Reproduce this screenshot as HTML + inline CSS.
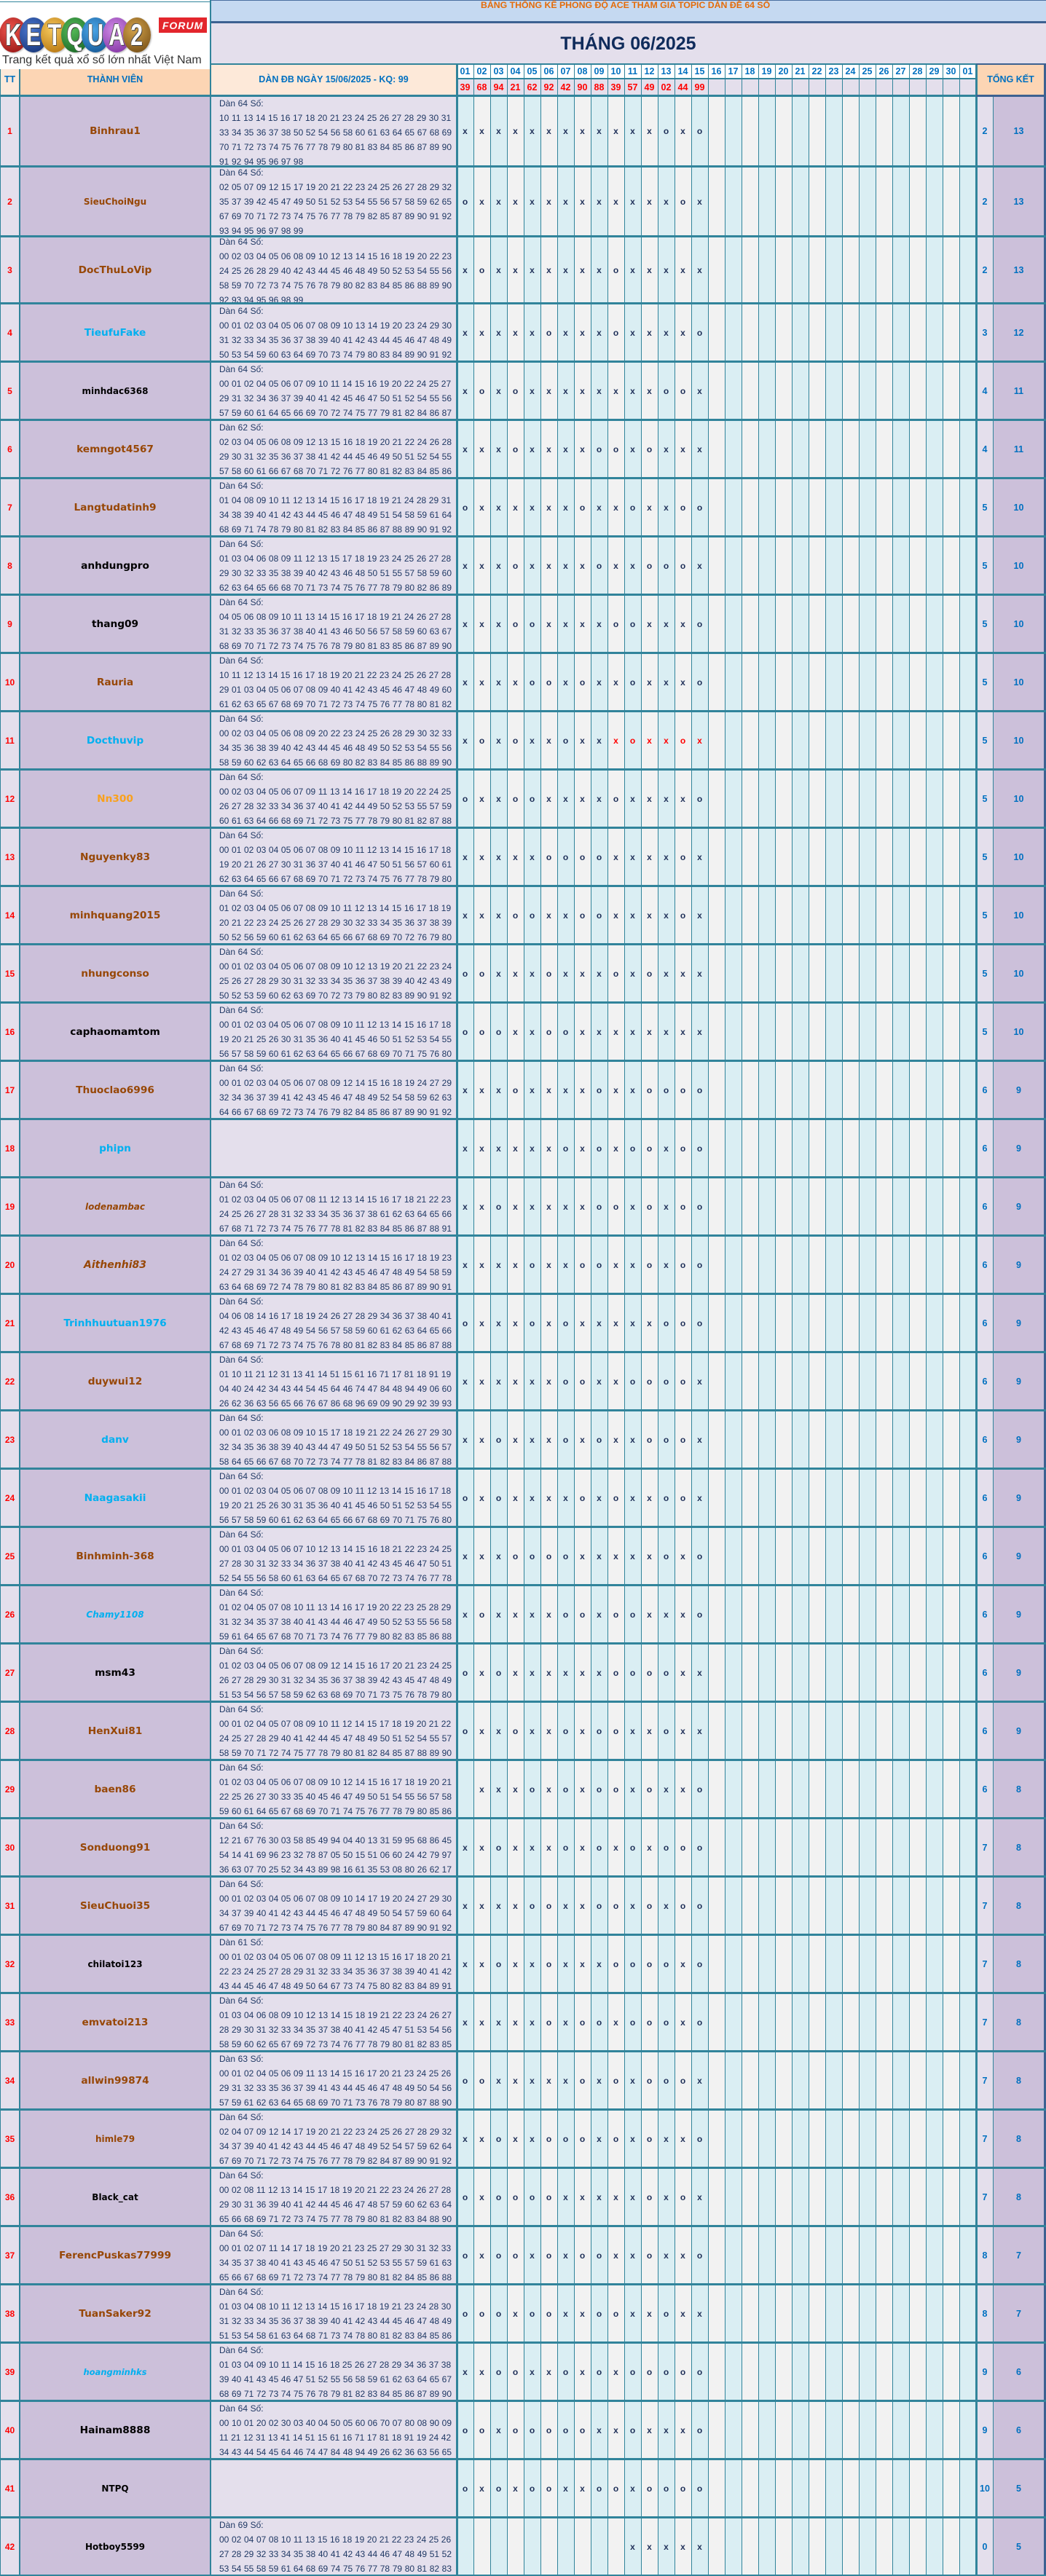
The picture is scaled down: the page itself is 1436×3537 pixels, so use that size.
<!DOCTYPE html>
<html><head><meta charset="utf-8">
<style>
*{margin:0;padding:0;box-sizing:border-box}
body{width:1436px;height:3537px;overflow:hidden;background:#fff}
#w{position:relative;width:1436px;height:3537px;overflow:hidden;font-family:"Liberation Sans",sans-serif;background:#fff}
.a{position:absolute}
.r{position:absolute;left:0;width:1436px}
.tt{position:absolute;left:0;width:27px;top:0;height:100%;display:flex;align-items:center;justify-content:center;color:#f00;font:bold 12px "Liberation Sans",sans-serif}
.nm{position:absolute;left:28px;width:260px;top:0;height:100%;display:flex;align-items:center;justify-content:center;font:bold 13.7px "DejaVu Sans",sans-serif;color:#974706;white-space:nowrap}
.nm.s{font-size:12px}.nm.it{font-style:italic}
.cb{color:#00b0f0!important}.ck{color:#000!important}.co{color:#f9a11b!important}
.dn{position:absolute;left:301px;width:325px;top:0;height:100%;overflow:hidden;font-size:12px;line-height:20px;color:#1f3864;white-space:nowrap;word-spacing:0.3px}
.dn div{margin-top:-1px}
.mk{position:absolute;left:627px;top:0;height:100%;display:flex;align-items:center;font:bold 12px "Liberation Sans",sans-serif;color:#1f3059}
.mk b{display:block;width:23px;text-align:center}
.mk b.rd{color:#f00}
.ta,.tb{position:absolute;top:0;height:100%;display:flex;align-items:center;justify-content:center;color:#0070c0;font:bold 12.5px "Liberation Sans",sans-serif}
.ta{left:1341px;width:22px}.tb{left:1364px;width:69px}
.hd{position:absolute;left:627px;display:flex;align-items:center}
.hd b{display:block;width:23px;text-align:center}
.hl{position:absolute;display:flex;align-items:center;justify-content:center;color:#0070c0;font:bold 12.5px "Liberation Sans",sans-serif;white-space:nowrap}
.c{position:absolute;border-radius:50%;width:38px;height:48px;top:24px;display:flex;align-items:center;justify-content:center;color:#fff;font:bold 42px "Liberation Sans",sans-serif;box-shadow:1px 1px 2px rgba(0,0,0,.3)}
.c span{display:block;transform:scaleX(.72);text-shadow:1px 1px 0 #333,-1px -1px 0 #555}
</style></head><body><div id="w">

<!-- logo -->
<div class="a" style="left:0;top:2px;width:289px;height:1px;background:#31849b"></div>
<div class="c" style="left:-1px;background:radial-gradient(circle at 40% 35%,#f0554c,#8e1010)"><span>K</span></div>
<div class="c" style="left:27px;background:radial-gradient(circle at 40% 35%,#4a78d0,#122e6e)"><span>E</span></div>
<div class="c" style="left:56px;background:radial-gradient(circle at 40% 35%,#f5c75a,#b06d08)"><span>T</span></div>
<div class="c" style="left:84px;background:radial-gradient(circle at 40% 35%,#55bb58,#135e21)"><span>Q</span></div>
<div class="c" style="left:112px;background:radial-gradient(circle at 40% 35%,#4aa6e8,#0f4f8c)"><span>U</span></div>
<div class="c" style="left:141px;background:radial-gradient(circle at 40% 35%,#cf8ae6,#7a2a9c)"><span>A</span></div>
<div class="c" style="left:169px;background:radial-gradient(circle at 40% 35%,#d3a24a,#6b4510)"><span>2</span></div>
<div class="a" style="left:218px;top:24px;width:66px;height:21px;background:#e3262c;color:#fff;font:italic bold 14px 'Liberation Sans',sans-serif;letter-spacing:1px;display:flex;align-items:center;justify-content:center">FORUM</div>
<div class="a" style="left:3px;top:74px;font-size:16px;line-height:18px;color:#333;white-space:nowrap">Trang kết quả xổ số lớn nhất Việt Nam</div>

<!-- header bands -->
<div class="a" style="left:289px;top:0;width:1147px;height:30px;background:#c5d9f1;border-top:1px solid #4a6fa0"></div>
<div class="a" style="left:660px;top:0;height:30px;line-height:30px;font:bold 12.3px 'Liberation Sans',sans-serif;color:#e46c0a;white-space:nowrap">BẢNG THỐNG KÊ PHONG ĐỘ ACE THAM GIA TOPIC DÀN ĐỀ 64 SỐ</div>
<div class="a" style="left:289px;top:29px;width:1147px;height:3px;background:#3c6191"></div>
<div class="a" style="left:289px;top:32px;width:1147px;height:56px;background:#e4dfec;display:flex;align-items:center;justify-content:center;font:bold 25px 'Liberation Sans',sans-serif;color:#0f2b5b">THÁNG 06/2025</div>

<!-- header cells -->
<div class="a" style="left:0;top:95px;width:27px;height:35px;background:#fde9d9"></div>
<div class="a" style="left:27px;top:95px;width:262px;height:35px;background:#fcd5b4"></div>
<div class="a" style="left:289px;top:88px;width:338px;height:42px;background:#fde9d9"></div>
<div class="a" style="left:627px;top:88px;width:713px;height:20px;background:#fff"></div>
<div class="a" style="left:627px;top:108px;width:713px;height:22px;background:#e4dfec"></div>
<div class="a" style="left:1340px;top:88px;width:96px;height:42px;background:#fcd5b4"></div>

<!-- body column backgrounds -->
<div class="a" style="left:0;top:133px;width:27px;height:3404px;background:#e4dfec"></div>
<div class="a" style="left:27px;top:133px;width:262px;height:3404px;background:#ccc0da"></div>
<div class="a" style="left:289px;top:133px;width:338px;height:3404px;background:#e4dfec"></div>
<div class="a" style="left:627px;top:133px;width:713px;height:3404px;background:repeating-linear-gradient(90deg,#daeef3 0,#daeef3 23px,#f2f2f2 23px,#f2f2f2 46px)"></div>
<div class="a" style="left:1340px;top:133px;width:23px;height:3404px;background:#e4dfec"></div>
<div class="a" style="left:1363px;top:133px;width:73px;height:3404px;background:#ccc0da"></div>

<!-- vertical lines -->
<div class="a" style="left:0;top:95px;width:1px;height:3442px;background:#31849b"></div>
<div class="a" style="left:26px;top:95px;width:2px;height:3442px;background:#31849b"></div>
<div class="a" style="left:288px;top:0;width:2px;height:3537px;background:#31849b"></div>
<div class="a" style="left:627px;top:88px;width:713px;height:3449px;background:repeating-linear-gradient(90deg,#31849b 0,#31849b 1px,transparent 1px,transparent 23px)"></div>
<div class="a" style="left:626px;top:88px;width:3px;height:3449px;background:#31849b"></div>
<div class="a" style="left:1339px;top:88px;width:3px;height:3449px;background:#31849b"></div>
<div class="a" style="left:1363px;top:130px;width:1px;height:3407px;background:#31849b"></div>
<div class="a" style="left:1433px;top:88px;width:3px;height:3449px;background:#3c6191"></div>

<!-- horizontal lines -->
<div class="a" style="left:289px;top:87px;width:1147px;height:2px;background:#31849b"></div>
<div class="a" style="left:1340px;top:87px;width:96px;height:2px;background:#3c6191"></div>
<div class="a" style="left:627px;top:107px;width:713px;height:2px;background:#31849b"></div>
<div class="a" style="left:0;top:130px;width:1436px;height:3px;background:#31849b"></div>
<div class="a" style="left:1340px;top:130px;width:96px;height:3px;background:#3c6191"></div>
<div class="a" style="left:0;top:227px;width:1436px;height:3px;background:#31849b"></div>
<div class="a" style="left:0;top:323px;width:1436px;height:3px;background:#31849b"></div>
<div class="a" style="left:0;top:415px;width:1436px;height:3122px;background:repeating-linear-gradient(180deg,#31849b 0,#31849b 3px,transparent 3px,transparent 80px)"></div>

<!-- header labels -->
<div class="hl" style="left:0;top:88px;width:27px;height:42px">TT</div>
<div class="hl" style="left:28px;top:88px;width:260px;height:42px">THÀNH VIÊN</div>
<div class="hl" style="left:290px;top:88px;width:336px;height:42px">DÀN ĐB NGÀY 15/06/2025 - KQ: 99</div>
<div class="hl" style="left:1342px;top:88px;width:91px;height:42px">TỔNG KẾT</div>
<div class="hd" style="top:88px;height:20px;color:#0070c0;font:12.5px 'Liberation Sans',sans-serif"><b>01</b><b>02</b><b>03</b><b>04</b><b>05</b><b>06</b><b>07</b><b>08</b><b>09</b><b>10</b><b>11</b><b>12</b><b>13</b><b>14</b><b>15</b><b>16</b><b>17</b><b>18</b><b>19</b><b>20</b><b>21</b><b>22</b><b>23</b><b>24</b><b>25</b><b>26</b><b>27</b><b>28</b><b>29</b><b>30</b><b>01</b></div>
<div class="hd" style="top:109px;height:21px;color:#f00;font:bold 12.5px 'Liberation Sans',sans-serif"><b>39</b><b>68</b><b>94</b><b>21</b><b>62</b><b>92</b><b>42</b><b>90</b><b>88</b><b>39</b><b>57</b><b>49</b><b>02</b><b>44</b><b>99</b></div>

<!-- rows -->
<div class="r" style="top:133px;height:94px"><b class="tt">1</b><i class="nm">Binhrau1</i><div class="dn"><div>Dàn 64 Số:<br>10 11 13 14 15 16 17 18 20 21 23 24 25 26 27 28 29 30 31<br>33 34 35 36 37 38 50 52 54 56 58 60 61 63 64 65 67 68 69<br>70 71 72 73 74 75 76 77 78 79 80 81 83 84 85 86 87 89 90<br>91 92 94 95 96 97 98</div></div><div class="mk"><b>x</b><b>x</b><b>x</b><b>x</b><b>x</b><b>x</b><b>x</b><b>x</b><b>x</b><b>x</b><b>x</b><b>x</b><b>o</b><b>x</b><b>o</b></div><b class="ta">2</b><b class="tb">13</b></div>

<div class="r" style="top:230px;height:93px"><b class="tt">2</b><i class="nm s">SieuChoiNgu</i><div class="dn"><div style="margin-top:-3px">Dàn 64 Số:<br>02 05 07 09 12 15 17 19 20 21 22 23 24 25 26 27 28 29 32<br>35 37 39 42 45 47 49 50 51 52 53 54 55 56 57 58 59 62 65<br>67 69 70 71 72 73 74 75 76 77 78 79 82 85 87 89 90 91 92<br>93 94 95 96 97 98 99</div></div><div class="mk"><b>o</b><b>x</b><b>x</b><b>x</b><b>x</b><b>x</b><b>x</b><b>x</b><b>x</b><b>x</b><b>x</b><b>x</b><b>x</b><b>o</b><b>x</b></div><b class="ta">2</b><b class="tb">13</b></div>

<div class="r" style="top:326px;height:89px"><b class="tt">3</b><i class="nm">DocThuLoVip</i><div class="dn"><div style="margin-top:-4px">Dàn 64 Số:<br>00 02 03 04 05 06 08 09 10 12 13 14 15 16 18 19 20 22 23<br>24 25 26 28 29 40 42 43 44 45 46 48 49 50 52 53 54 55 56<br>58 59 70 72 73 74 75 76 78 79 80 82 83 84 85 86 88 89 90<br>92 93 94 95 96 98 99</div></div><div class="mk"><b>x</b><b>o</b><b>x</b><b>x</b><b>x</b><b>x</b><b>x</b><b>x</b><b>x</b><b>o</b><b>x</b><b>x</b><b>x</b><b>x</b><b>x</b></div><b class="ta">2</b><b class="tb">13</b></div>

<div class="r" style="top:418px;height:77px"><b class="tt">4</b><i class="nm cb">TieufuFake</i><div class="dn"><div>Dàn 64 Số:<br>00 01 02 03 04 05 06 07 08 09 10 13 14 19 20 23 24 29 30<br>31 32 33 34 35 36 37 38 39 40 41 42 43 44 45 46 47 48 49<br>50 53 54 59 60 63 64 69 70 73 74 79 80 83 84 89 90 91 92</div></div><div class="mk"><b>x</b><b>x</b><b>x</b><b>x</b><b>x</b><b>o</b><b>x</b><b>x</b><b>x</b><b>o</b><b>x</b><b>x</b><b>x</b><b>x</b><b>o</b></div><b class="ta">3</b><b class="tb">12</b></div>

<div class="r" style="top:498px;height:77px"><b class="tt">5</b><i class="nm s ck">minhdac6368</i><div class="dn"><div>Dàn 64 Số:<br>00 01 02 04 05 06 07 09 10 11 14 15 16 19 20 22 24 25 27<br>29 31 32 34 36 37 39 40 41 42 45 46 47 50 51 52 54 55 56<br>57 59 60 61 64 65 66 69 70 72 74 75 77 79 81 82 84 86 87</div></div><div class="mk"><b>x</b><b>o</b><b>x</b><b>o</b><b>x</b><b>x</b><b>x</b><b>x</b><b>x</b><b>x</b><b>x</b><b>x</b><b>o</b><b>o</b><b>x</b></div><b class="ta">4</b><b class="tb">11</b></div>

<div class="r" style="top:578px;height:77px"><b class="tt">6</b><i class="nm">kemngot4567</i><div class="dn"><div>Dàn 62 Số:<br>02 03 04 05 06 08 09 12 13 15 16 18 19 20 21 22 24 26 28<br>29 30 31 32 35 36 37 38 41 42 44 45 46 49 50 51 52 54 55<br>57 58 60 61 66 67 68 70 71 72 76 77 80 81 82 83 84 85 86</div></div><div class="mk"><b>x</b><b>x</b><b>x</b><b>o</b><b>x</b><b>x</b><b>x</b><b>x</b><b>o</b><b>o</b><b>x</b><b>o</b><b>x</b><b>x</b><b>x</b></div><b class="ta">4</b><b class="tb">11</b></div>

<div class="r" style="top:658px;height:77px"><b class="tt">7</b><i class="nm">Langtudatinh9</i><div class="dn"><div>Dàn 64 Số:<br>01 04 08 09 10 11 12 13 14 15 16 17 18 19 21 24 28 29 31<br>34 38 39 40 41 42 43 44 45 46 47 48 49 51 54 58 59 61 64<br>68 69 71 74 78 79 80 81 82 83 84 85 86 87 88 89 90 91 92</div></div><div class="mk"><b>o</b><b>x</b><b>x</b><b>x</b><b>x</b><b>x</b><b>x</b><b>o</b><b>x</b><b>x</b><b>o</b><b>x</b><b>x</b><b>o</b><b>o</b></div><b class="ta">5</b><b class="tb">10</b></div>

<div class="r" style="top:738px;height:77px"><b class="tt">8</b><i class="nm ck">anhdungpro</i><div class="dn"><div>Dàn 64 Số:<br>01 03 04 06 08 09 11 12 13 15 17 18 19 23 24 25 26 27 28<br>29 30 32 33 35 38 39 40 42 43 46 48 50 51 55 57 58 59 60<br>62 63 64 65 66 68 70 71 73 74 75 76 77 78 79 80 82 86 89</div></div><div class="mk"><b>x</b><b>x</b><b>x</b><b>o</b><b>x</b><b>x</b><b>x</b><b>x</b><b>o</b><b>x</b><b>x</b><b>o</b><b>o</b><b>o</b><b>x</b></div><b class="ta">5</b><b class="tb">10</b></div>

<div class="r" style="top:818px;height:77px"><b class="tt">9</b><i class="nm ck">thang09</i><div class="dn"><div>Dàn 64 Số:<br>04 05 06 08 09 10 11 13 14 15 16 17 18 19 21 24 26 27 28<br>31 32 33 35 36 37 38 40 41 43 46 50 56 57 58 59 60 63 67<br>68 69 70 71 72 73 74 75 76 78 79 80 81 83 85 86 87 89 90</div></div><div class="mk"><b>x</b><b>x</b><b>x</b><b>o</b><b>o</b><b>x</b><b>x</b><b>x</b><b>x</b><b>o</b><b>o</b><b>x</b><b>x</b><b>x</b><b>o</b></div><b class="ta">5</b><b class="tb">10</b></div>

<div class="r" style="top:898px;height:77px"><b class="tt">10</b><i class="nm">Rauria</i><div class="dn"><div>Dàn 64 Số:<br>10 11 12 13 14 15 16 17 18 19 20 21 22 23 24 25 26 27 28<br>29 01 03 04 05 06 07 08 09 40 41 42 43 45 46 47 48 49 60<br>61 62 63 65 67 68 69 70 71 72 73 74 75 76 77 78 80 81 82</div></div><div class="mk"><b>x</b><b>x</b><b>x</b><b>x</b><b>o</b><b>o</b><b>x</b><b>o</b><b>x</b><b>x</b><b>o</b><b>x</b><b>x</b><b>x</b><b>o</b></div><b class="ta">5</b><b class="tb">10</b></div>

<div class="r" style="top:978px;height:77px"><b class="tt">11</b><i class="nm cb">Docthuvip</i><div class="dn"><div>Dàn 64 Số:<br>00 02 03 04 05 06 08 09 20 22 23 24 25 26 28 29 30 32 33<br>34 35 36 38 39 40 42 43 44 45 46 48 49 50 52 53 54 55 56<br>58 59 60 62 63 64 65 66 68 69 80 82 83 84 85 86 88 89 90</div></div><div class="mk"><b>x</b><b>o</b><b>x</b><b>o</b><b>x</b><b>x</b><b>o</b><b>x</b><b>x</b><b class="rd">x</b><b class="rd">o</b><b class="rd">x</b><b class="rd">x</b><b class="rd">o</b><b class="rd">x</b></div><b class="ta">5</b><b class="tb">10</b></div>

<div class="r" style="top:1058px;height:77px"><b class="tt">12</b><i class="nm co">Nn300</i><div class="dn"><div>Dàn 64 Số:<br>00 02 03 04 05 06 07 09 11 13 14 16 17 18 19 20 22 24 25<br>26 27 28 32 33 34 36 37 40 41 42 44 49 50 52 53 55 57 59<br>60 61 63 64 66 68 69 71 72 73 75 77 78 79 80 81 82 87 88</div></div><div class="mk"><b>o</b><b>x</b><b>x</b><b>o</b><b>o</b><b>x</b><b>x</b><b>x</b><b>x</b><b>o</b><b>x</b><b>x</b><b>x</b><b>x</b><b>o</b></div><b class="ta">5</b><b class="tb">10</b></div>

<div class="r" style="top:1138px;height:77px"><b class="tt">13</b><i class="nm">Nguyenky83</i><div class="dn"><div>Dàn 64 Số:<br>00 01 02 03 04 05 06 07 08 09 10 11 12 13 14 15 16 17 18<br>19 20 21 26 27 30 31 36 37 40 41 46 47 50 51 56 57 60 61<br>62 63 64 65 66 67 68 69 70 71 72 73 74 75 76 77 78 79 80</div></div><div class="mk"><b>x</b><b>x</b><b>x</b><b>x</b><b>x</b><b>o</b><b>o</b><b>o</b><b>o</b><b>x</b><b>x</b><b>x</b><b>x</b><b>o</b><b>x</b></div><b class="ta">5</b><b class="tb">10</b></div>

<div class="r" style="top:1218px;height:77px"><b class="tt">14</b><i class="nm">minhquang2015</i><div class="dn"><div>Dàn 64 Số:<br>01 02 03 04 05 06 07 08 09 10 11 12 13 14 15 16 17 18 19<br>20 21 22 23 24 25 26 27 28 29 30 32 33 34 35 36 37 38 39<br>50 52 56 59 60 61 62 63 64 65 66 67 68 69 70 72 76 79 80</div></div><div class="mk"><b>x</b><b>x</b><b>x</b><b>o</b><b>o</b><b>x</b><b>x</b><b>o</b><b>o</b><b>x</b><b>x</b><b>x</b><b>x</b><b>o</b><b>x</b></div><b class="ta">5</b><b class="tb">10</b></div>

<div class="r" style="top:1298px;height:77px"><b class="tt">15</b><i class="nm">nhungconso</i><div class="dn"><div>Dàn 64 Số:<br>00 01 02 03 04 05 06 07 08 09 10 12 13 19 20 21 22 23 24<br>25 26 27 28 29 30 31 32 33 34 35 36 37 38 39 40 42 43 49<br>50 52 53 59 60 62 63 69 70 72 73 79 80 82 83 89 90 91 92</div></div><div class="mk"><b>o</b><b>o</b><b>x</b><b>x</b><b>x</b><b>o</b><b>x</b><b>x</b><b>x</b><b>o</b><b>x</b><b>o</b><b>x</b><b>x</b><b>x</b></div><b class="ta">5</b><b class="tb">10</b></div>

<div class="r" style="top:1378px;height:77px"><b class="tt">16</b><i class="nm ck">caphaomamtom</i><div class="dn"><div>Dàn 64 Số:<br>00 01 02 03 04 05 06 07 08 09 10 11 12 13 14 15 16 17 18<br>19 20 21 25 26 30 31 35 36 40 41 45 46 50 51 52 53 54 55<br>56 57 58 59 60 61 62 63 64 65 66 67 68 69 70 71 75 76 80</div></div><div class="mk"><b>o</b><b>o</b><b>o</b><b>x</b><b>x</b><b>o</b><b>o</b><b>x</b><b>x</b><b>x</b><b>x</b><b>x</b><b>x</b><b>x</b><b>x</b></div><b class="ta">5</b><b class="tb">10</b></div>

<div class="r" style="top:1458px;height:77px"><b class="tt">17</b><i class="nm">Thuoclao6996</i><div class="dn"><div>Dàn 64 Số:<br>00 01 02 03 04 05 06 07 08 09 12 14 15 16 18 19 24 27 29<br>32 34 36 37 39 41 42 43 45 46 47 48 49 52 54 58 59 62 63<br>64 66 67 68 69 72 73 74 76 79 82 84 85 86 87 89 90 91 92</div></div><div class="mk"><b>x</b><b>x</b><b>x</b><b>o</b><b>x</b><b>x</b><b>x</b><b>x</b><b>o</b><b>x</b><b>x</b><b>o</b><b>o</b><b>o</b><b>o</b></div><b class="ta">6</b><b class="tb">9</b></div>

<div class="r" style="top:1538px;height:77px"><b class="tt">18</b><i class="nm cb">phipn</i><div class="mk"><b>x</b><b>x</b><b>x</b><b>x</b><b>x</b><b>x</b><b>o</b><b>x</b><b>o</b><b>x</b><b>o</b><b>o</b><b>x</b><b>o</b><b>o</b></div><b class="ta">6</b><b class="tb">9</b></div>

<div class="r" style="top:1618px;height:77px"><b class="tt">19</b><i class="nm s it">lodenambac</i><div class="dn"><div>Dàn 64 Số:<br>01 02 03 04 05 06 07 08 11 12 13 14 15 16 17 18 21 22 23<br>24 25 26 27 28 31 32 33 34 35 36 37 38 61 62 63 64 65 66<br>67 68 71 72 73 74 75 76 77 78 81 82 83 84 85 86 87 88 91</div></div><div class="mk"><b>x</b><b>x</b><b>o</b><b>x</b><b>x</b><b>x</b><b>x</b><b>x</b><b>o</b><b>o</b><b>x</b><b>o</b><b>x</b><b>o</b><b>o</b></div><b class="ta">6</b><b class="tb">9</b></div>

<div class="r" style="top:1698px;height:77px"><b class="tt">20</b><i class="nm it" style="font-size:14px">Aithenhi83</i><div class="dn"><div>Dàn 64 Số:<br>01 02 03 04 05 06 07 08 09 10 12 13 14 15 16 17 18 19 23<br>24 27 29 31 34 36 39 40 41 42 43 45 46 47 48 49 54 58 59<br>63 64 68 69 72 74 78 79 80 81 82 83 84 85 86 87 89 90 91</div></div><div class="mk"><b>x</b><b>x</b><b>x</b><b>x</b><b>o</b><b>x</b><b>x</b><b>o</b><b>o</b><b>x</b><b>x</b><b>o</b><b>x</b><b>o</b><b>o</b></div><b class="ta">6</b><b class="tb">9</b></div>

<div class="r" style="top:1778px;height:77px"><b class="tt">21</b><i class="nm cb">Trinhhuutuan1976</i><div class="dn"><div>Dàn 64 Số:<br>04 06 08 14 16 17 18 19 24 26 27 28 29 34 36 37 38 40 41<br>42 43 45 46 47 48 49 54 56 57 58 59 60 61 62 63 64 65 66<br>67 68 69 71 72 73 74 75 76 78 80 81 82 83 84 85 86 87 88</div></div><div class="mk"><b>o</b><b>x</b><b>x</b><b>x</b><b>o</b><b>x</b><b>o</b><b>x</b><b>x</b><b>x</b><b>x</b><b>x</b><b>o</b><b>o</b><b>o</b></div><b class="ta">6</b><b class="tb">9</b></div>

<div class="r" style="top:1858px;height:77px"><b class="tt">22</b><i class="nm">duywui12</i><div class="dn"><div>Dàn 64 Số:<br>01 10 11 21 12 31 13 41 14 51 15 61 16 71 17 81 18 91 19<br>04 40 24 42 34 43 44 54 45 64 46 74 47 84 48 94 49 06 60<br>26 62 36 63 56 65 66 76 67 86 68 96 69 09 90 29 92 39 93</div></div><div class="mk"><b>x</b><b>x</b><b>x</b><b>x</b><b>x</b><b>x</b><b>o</b><b>o</b><b>x</b><b>x</b><b>o</b><b>o</b><b>o</b><b>o</b><b>x</b></div><b class="ta">6</b><b class="tb">9</b></div>

<div class="r" style="top:1938px;height:77px"><b class="tt">23</b><i class="nm cb">danv</i><div class="dn"><div>Dàn 64 Số:<br>00 01 02 03 06 08 09 10 15 17 18 19 21 22 24 26 27 29 30<br>32 34 35 36 38 39 40 43 44 47 49 50 51 52 53 54 55 56 57<br>58 64 65 66 67 68 70 72 73 74 77 78 81 82 83 84 86 87 88</div></div><div class="mk"><b>x</b><b>x</b><b>o</b><b>x</b><b>x</b><b>x</b><b>o</b><b>x</b><b>o</b><b>x</b><b>x</b><b>o</b><b>o</b><b>o</b><b>x</b></div><b class="ta">6</b><b class="tb">9</b></div>

<div class="r" style="top:2018px;height:77px"><b class="tt">24</b><i class="nm cb">Naagasakii</i><div class="dn"><div>Dàn 64 Số:<br>00 01 02 03 04 05 06 07 08 09 10 11 12 13 14 15 16 17 18<br>19 20 21 25 26 30 31 35 36 40 41 45 46 50 51 52 53 54 55<br>56 57 58 59 60 61 62 63 64 65 66 67 68 69 70 71 75 76 80</div></div><div class="mk"><b>o</b><b>x</b><b>o</b><b>x</b><b>x</b><b>x</b><b>x</b><b>o</b><b>x</b><b>o</b><b>x</b><b>x</b><b>o</b><b>o</b><b>x</b></div><b class="ta">6</b><b class="tb">9</b></div>

<div class="r" style="top:2098px;height:77px"><b class="tt">25</b><i class="nm">Binhminh-368</i><div class="dn"><div>Dàn 64 Số:<br>00 01 03 04 05 06 07 10 12 13 14 15 16 18 21 22 23 24 25<br>27 28 30 31 32 33 34 36 37 38 40 41 42 43 45 46 47 50 51<br>52 54 55 56 58 60 61 63 64 65 67 68 70 72 73 74 76 77 78</div></div><div class="mk"><b>x</b><b>x</b><b>x</b><b>o</b><b>o</b><b>o</b><b>o</b><b>x</b><b>x</b><b>x</b><b>x</b><b>x</b><b>o</b><b>x</b><b>o</b></div><b class="ta">6</b><b class="tb">9</b></div>

<div class="r" style="top:2178px;height:77px"><b class="tt">26</b><i class="nm s it cb">Chamy1108</i><div class="dn"><div>Dàn 64 Số:<br>01 02 04 05 07 08 10 11 13 14 16 17 19 20 22 23 25 28 29<br>31 32 34 35 37 38 40 41 43 44 46 47 49 50 52 53 55 56 58<br>59 61 64 65 67 68 70 71 73 74 76 77 79 80 82 83 85 86 88</div></div><div class="mk"><b>x</b><b>o</b><b>x</b><b>x</b><b>x</b><b>x</b><b>o</b><b>o</b><b>x</b><b>o</b><b>o</b><b>x</b><b>x</b><b>x</b><b>o</b></div><b class="ta">6</b><b class="tb">9</b></div>

<div class="r" style="top:2258px;height:77px"><b class="tt">27</b><i class="nm ck">msm43</i><div class="dn"><div>Dàn 64 Số:<br>01 02 03 04 05 06 07 08 09 12 14 15 16 17 20 21 23 24 25<br>26 27 28 29 30 31 32 34 35 36 37 38 39 42 43 45 47 48 49<br>51 53 54 56 57 58 59 62 63 68 69 70 71 73 75 76 78 79 80</div></div><div class="mk"><b>o</b><b>x</b><b>o</b><b>x</b><b>x</b><b>x</b><b>x</b><b>x</b><b>x</b><b>o</b><b>o</b><b>o</b><b>o</b><b>x</b><b>x</b></div><b class="ta">6</b><b class="tb">9</b></div>

<div class="r" style="top:2338px;height:77px"><b class="tt">28</b><i class="nm">HenXui81</i><div class="dn"><div>Dàn 64 Số:<br>00 01 02 04 05 07 08 09 10 11 12 14 15 17 18 19 20 21 22<br>24 25 27 28 29 40 41 42 44 45 47 48 49 50 51 52 54 55 57<br>58 59 70 71 72 74 75 77 78 79 80 81 82 84 85 87 88 89 90</div></div><div class="mk"><b>o</b><b>x</b><b>x</b><b>o</b><b>x</b><b>x</b><b>o</b><b>x</b><b>o</b><b>o</b><b>x</b><b>x</b><b>o</b><b>x</b><b>x</b></div><b class="ta">6</b><b class="tb">9</b></div>

<div class="r" style="top:2418px;height:77px"><b class="tt">29</b><i class="nm">baen86</i><div class="dn"><div>Dàn 64 Số:<br>01 02 03 04 05 06 07 08 09 10 12 14 15 16 17 18 19 20 21<br>22 25 26 27 30 33 35 40 45 46 47 49 50 51 54 55 56 57 58<br>59 60 61 64 65 67 68 69 70 71 74 75 76 77 78 79 80 85 86</div></div><div class="mk"><b></b><b>x</b><b>x</b><b>x</b><b>o</b><b>x</b><b>o</b><b>x</b><b>o</b><b>o</b><b>x</b><b>o</b><b>x</b><b>x</b><b>o</b></div><b class="ta">6</b><b class="tb">8</b></div>

<div class="r" style="top:2498px;height:77px"><b class="tt">30</b><i class="nm">Sonduong91</i><div class="dn"><div>Dàn 64 Số:<br>12 21 67 76 30 03 58 85 49 94 04 40 13 31 59 95 68 86 45<br>54 14 41 69 96 23 32 78 87 05 50 15 51 06 60 24 42 79 97<br>36 63 07 70 25 52 34 43 89 98 16 61 35 53 08 80 26 62 17</div></div><div class="mk"><b>x</b><b>x</b><b>o</b><b>x</b><b>x</b><b>x</b><b>o</b><b>x</b><b>o</b><b>x</b><b>o</b><b>x</b><b>o</b><b>o</b><b>o</b></div><b class="ta">7</b><b class="tb">8</b></div>

<div class="r" style="top:2578px;height:77px"><b class="tt">31</b><i class="nm">SieuChuoi35</i><div class="dn"><div>Dàn 64 Số:<br>00 01 02 03 04 05 06 07 08 09 10 14 17 19 20 24 27 29 30<br>34 37 39 40 41 42 43 44 45 46 47 48 49 50 54 57 59 60 64<br>67 69 70 71 72 73 74 75 76 77 78 79 80 84 87 89 90 91 92</div></div><div class="mk"><b>x</b><b>x</b><b>x</b><b>x</b><b>o</b><b>o</b><b>x</b><b>x</b><b>o</b><b>o</b><b>x</b><b>o</b><b>x</b><b>o</b><b>o</b></div><b class="ta">7</b><b class="tb">8</b></div>

<div class="r" style="top:2658px;height:77px"><b class="tt">32</b><i class="nm s ck">chilatoi123</i><div class="dn"><div>Dàn 61 Số:<br>00 01 02 03 04 05 06 07 08 09 11 12 13 15 16 17 18 20 21<br>22 23 24 25 27 28 29 31 32 33 34 35 36 37 38 39 40 41 42<br>43 44 45 46 47 48 49 50 64 67 73 74 75 80 82 83 84 89 91</div></div><div class="mk"><b>x</b><b>x</b><b>o</b><b>x</b><b>x</b><b>o</b><b>x</b><b>x</b><b>x</b><b>o</b><b>o</b><b>o</b><b>o</b><b>x</b><b>o</b></div><b class="ta">7</b><b class="tb">8</b></div>

<div class="r" style="top:2738px;height:77px"><b class="tt">33</b><i class="nm">emvatoi213</i><div class="dn"><div>Dàn 64 Số:<br>01 03 04 06 08 09 10 12 13 14 15 18 19 21 22 23 24 26 27<br>28 29 30 31 32 33 34 35 37 38 40 41 42 45 47 51 53 54 56<br>58 59 60 62 65 67 69 72 73 74 76 77 78 79 80 81 82 83 85</div></div><div class="mk"><b>x</b><b>x</b><b>x</b><b>x</b><b>x</b><b>o</b><b>x</b><b>o</b><b>o</b><b>x</b><b>o</b><b>o</b><b>o</b><b>x</b><b>o</b></div><b class="ta">7</b><b class="tb">8</b></div>

<div class="r" style="top:2818px;height:77px"><b class="tt">34</b><i class="nm">allwin99874</i><div class="dn"><div>Dàn 63 Số:<br>00 01 02 04 05 06 09 11 13 14 15 16 17 20 21 23 24 25 26<br>29 31 32 33 35 36 37 39 41 43 44 45 46 47 48 49 50 54 56<br>57 59 61 62 63 64 65 68 69 70 71 73 76 78 79 80 87 88 90</div></div><div class="mk"><b>o</b><b>o</b><b>x</b><b>x</b><b>x</b><b>x</b><b>x</b><b>o</b><b>x</b><b>o</b><b>x</b><b>o</b><b>o</b><b>o</b><b>x</b></div><b class="ta">7</b><b class="tb">8</b></div>

<div class="r" style="top:2898px;height:77px"><b class="tt">35</b><i class="nm s">himle79</i><div class="dn"><div>Dàn 64 Số:<br>02 04 07 09 12 14 17 19 20 21 22 23 24 25 26 27 28 29 32<br>34 37 39 40 41 42 43 44 45 46 47 48 49 52 54 57 59 62 64<br>67 69 70 71 72 73 74 75 76 77 78 79 82 84 87 89 90 91 92</div></div><div class="mk"><b>x</b><b>x</b><b>o</b><b>x</b><b>x</b><b>o</b><b>o</b><b>o</b><b>x</b><b>o</b><b>x</b><b>o</b><b>x</b><b>x</b><b>o</b></div><b class="ta">7</b><b class="tb">8</b></div>

<div class="r" style="top:2978px;height:77px"><b class="tt">36</b><i class="nm s ck">Black_cat</i><div class="dn"><div>Dàn 64 Số:<br>00 02 08 11 12 13 14 15 17 18 19 20 21 22 23 24 26 27 28<br>29 30 31 36 39 40 41 42 44 45 46 47 48 57 59 60 62 63 64<br>65 66 68 69 71 72 73 74 75 77 78 79 80 81 82 83 84 88 90</div></div><div class="mk"><b>o</b><b>x</b><b>o</b><b>o</b><b>o</b><b>o</b><b>x</b><b>x</b><b>x</b><b>x</b><b>x</b><b>o</b><b>x</b><b>o</b><b>x</b></div><b class="ta">7</b><b class="tb">8</b></div>

<div class="r" style="top:3058px;height:77px"><b class="tt">37</b><i class="nm">FerencPuskas77999</i><div class="dn"><div>Dàn 64 Số:<br>00 01 02 07 11 14 17 18 19 20 21 23 25 27 29 30 31 32 33<br>34 35 37 38 40 41 43 45 46 47 50 51 52 53 55 57 59 61 63<br>65 66 67 68 69 71 72 73 74 77 78 79 80 81 82 84 85 86 88</div></div><div class="mk"><b>o</b><b>x</b><b>o</b><b>o</b><b>x</b><b>o</b><b>x</b><b>o</b><b>o</b><b>x</b><b>x</b><b>o</b><b>x</b><b>x</b><b>o</b></div><b class="ta">8</b><b class="tb">7</b></div>

<div class="r" style="top:3138px;height:77px"><b class="tt">38</b><i class="nm">TuanSaker92</i><div class="dn"><div>Dàn 64 Số:<br>01 03 04 08 10 11 12 13 14 15 16 17 18 19 21 23 24 28 30<br>31 32 33 34 35 36 37 38 39 40 41 42 43 44 45 46 47 48 49<br>51 53 54 58 61 63 64 68 71 73 74 78 80 81 82 83 84 85 86</div></div><div class="mk"><b>o</b><b>o</b><b>o</b><b>x</b><b>o</b><b>o</b><b>x</b><b>x</b><b>o</b><b>o</b><b>x</b><b>x</b><b>o</b><b>x</b><b>x</b></div><b class="ta">8</b><b class="tb">7</b></div>

<div class="r" style="top:3218px;height:77px"><b class="tt">39</b><i class="nm s it cb" style="font-size:11.5px">hoangminhks</i><div class="dn"><div>Dàn 64 Số:<br>01 03 04 09 10 11 14 15 16 18 25 26 27 28 29 34 36 37 38<br>39 40 41 43 45 46 47 51 52 55 56 58 59 61 62 63 64 65 67<br>68 69 71 72 73 74 75 76 78 79 81 82 83 84 85 86 87 89 90</div></div><div class="mk"><b>x</b><b>x</b><b>o</b><b>o</b><b>x</b><b>x</b><b>o</b><b>x</b><b>o</b><b>x</b><b>o</b><b>o</b><b>o</b><b>o</b><b>o</b></div><b class="ta">9</b><b class="tb">6</b></div>

<div class="r" style="top:3298px;height:77px"><b class="tt">40</b><i class="nm ck">Hainam8888</i><div class="dn"><div>Dàn 64 Số:<br>00 10 01 20 02 30 03 40 04 50 05 60 06 70 07 80 08 90 09<br>11 21 12 31 13 41 14 51 15 61 16 71 17 81 18 91 19 24 42<br>34 43 44 54 45 64 46 74 47 84 48 94 49 26 62 36 63 56 65</div></div><div class="mk"><b>o</b><b>o</b><b>x</b><b>o</b><b>o</b><b>o</b><b>o</b><b>o</b><b>x</b><b>x</b><b>o</b><b>x</b><b>x</b><b>x</b><b>o</b></div><b class="ta">9</b><b class="tb">6</b></div>

<div class="r" style="top:3378px;height:77px"><b class="tt">41</b><i class="nm s ck">NTPQ</i><div class="mk"><b>o</b><b>x</b><b>o</b><b>x</b><b>o</b><b>o</b><b>x</b><b>x</b><b>o</b><b>o</b><b>x</b><b>o</b><b>o</b><b>o</b><b>o</b></div><b class="ta">10</b><b class="tb">5</b></div>

<div class="r" style="top:3458px;height:77px"><b class="tt">42</b><i class="nm s ck">Hotboy5599</i><div class="dn"><div>Dàn 69 Số:<br>00 02 04 07 08 10 11 13 15 16 18 19 20 21 22 23 24 25 26<br>27 28 29 32 33 34 35 38 40 41 42 43 44 46 47 48 49 51 52<br>53 54 55 58 59 61 64 68 69 74 75 76 77 78 79 80 81 82 83</div></div><div class="mk"><b></b><b></b><b></b><b></b><b></b><b></b><b></b><b></b><b></b><b></b><b>x</b><b>x</b><b>x</b><b>x</b><b>x</b></div><b class="ta">0</b><b class="tb">5</b></div>

</div></body></html>
